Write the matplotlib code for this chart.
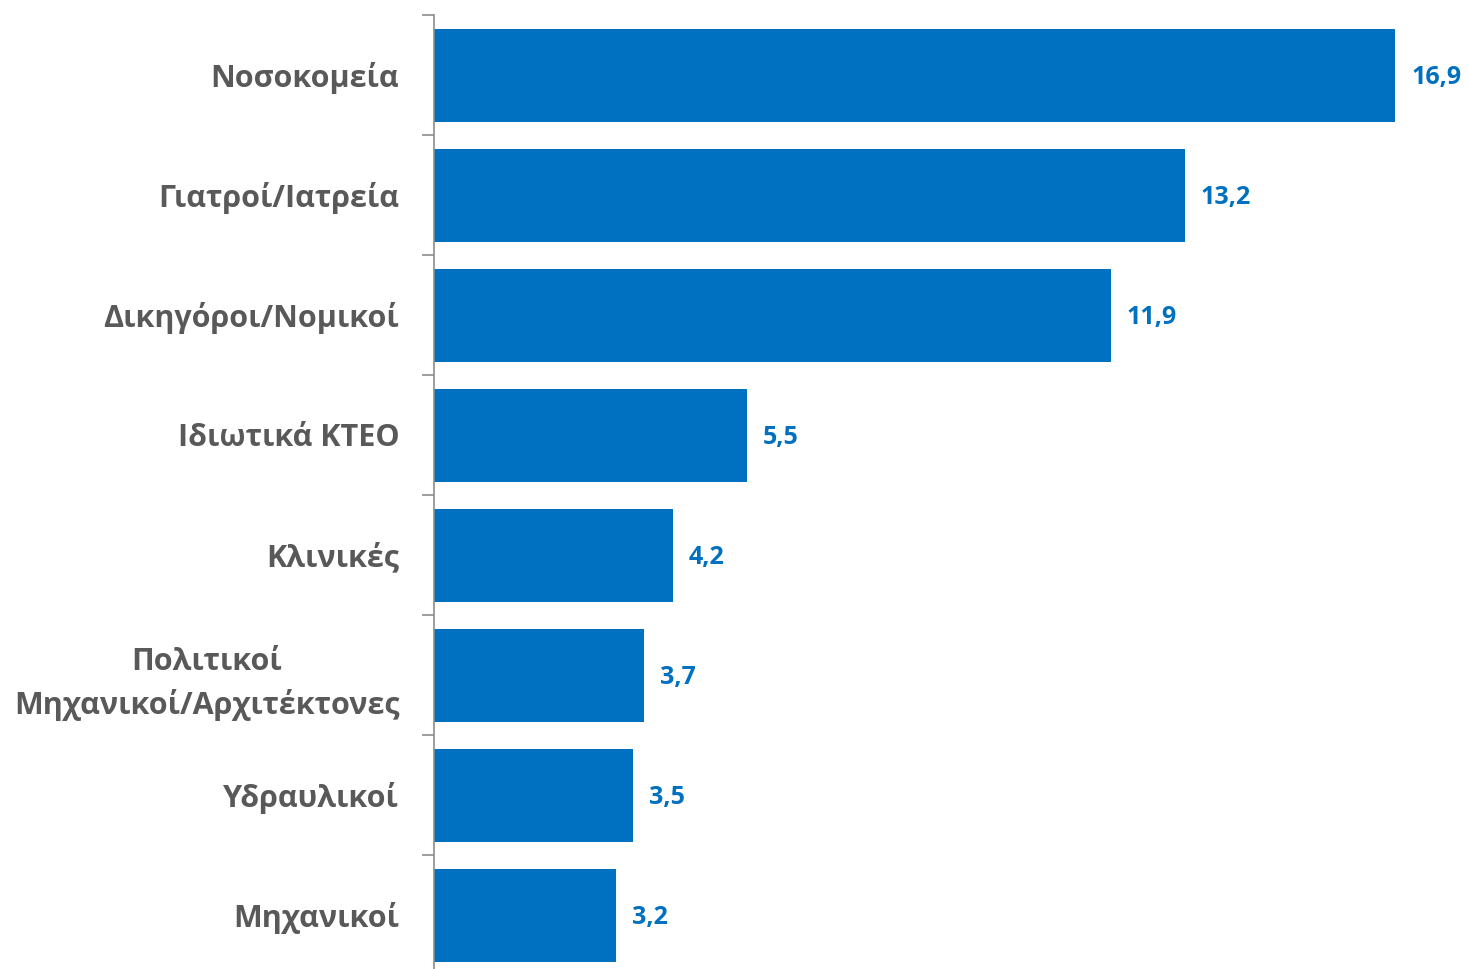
import matplotlib
matplotlib.use('Agg')
import matplotlib.pyplot as plt

# Data (top to bottom)
categories = ['Νοσοκομεία', 'Γιατροί/Ιατρεία', 'Δικηγόροι/Νομικοί', 'Ιδιωτικά ΚΤΕΟ',
              'Κλινικές', 'Πολιτικοί\nΜηχανικοί/Αρχιτέκτονες', 'Υδραυλικοί', 'Μηχανικοί']
values = [16.9, 13.2, 11.9, 5.5, 4.2, 3.7, 3.5, 3.2]
value_labels = ['16,9', '13,2', '11,9', '5,5', '4,2', '3,7', '3,5', '3,2']

plt.rcParams['font.family'] = ['Open Sans', 'DejaVu Sans']

fig = plt.figure(figsize=(14.68, 9.69), dpi=100)
ax = fig.add_axes([434/1468, -6/969, 1024/1468, 960/969])

pos = list(range(len(categories)))
ax.barh(pos, values, height=0.775, color='#0070C0')
for p, v, lab in zip(pos, values, value_labels):
    ax.text(v + 0.28, p + 0.02, lab, va='center', ha='left', fontsize=18,
            fontweight='bold', color='#0070C0')

ax.set_ylim(len(categories) - 0.5, -0.5)
ax.set_xlim(0, 18)
ax.set_yticks([p + 0.5 for p in pos[:-1]] + [-0.5], minor=False)
ax.set_yticklabels([])
ax.set_yticks(pos, minor=True)
ax.set_yticklabels(categories, minor=True, fontsize=22, fontweight='bold',
                   color='#595959', multialignment='center', linespacing=1.45)
ax.tick_params(axis='y', which='major', length=8.6, width=1.2, color='#8c8c8c')
ax.tick_params(axis='y', which='minor', length=0, pad=25)
ax.set_xticks([])
for s in ['top', 'right', 'bottom']:
    ax.spines[s].set_visible(False)
ax.spines['left'].set_color('#8c8c8c')
ax.spines['left'].set_linewidth(1.2)

plt.savefig('out.png', dpi=100)
